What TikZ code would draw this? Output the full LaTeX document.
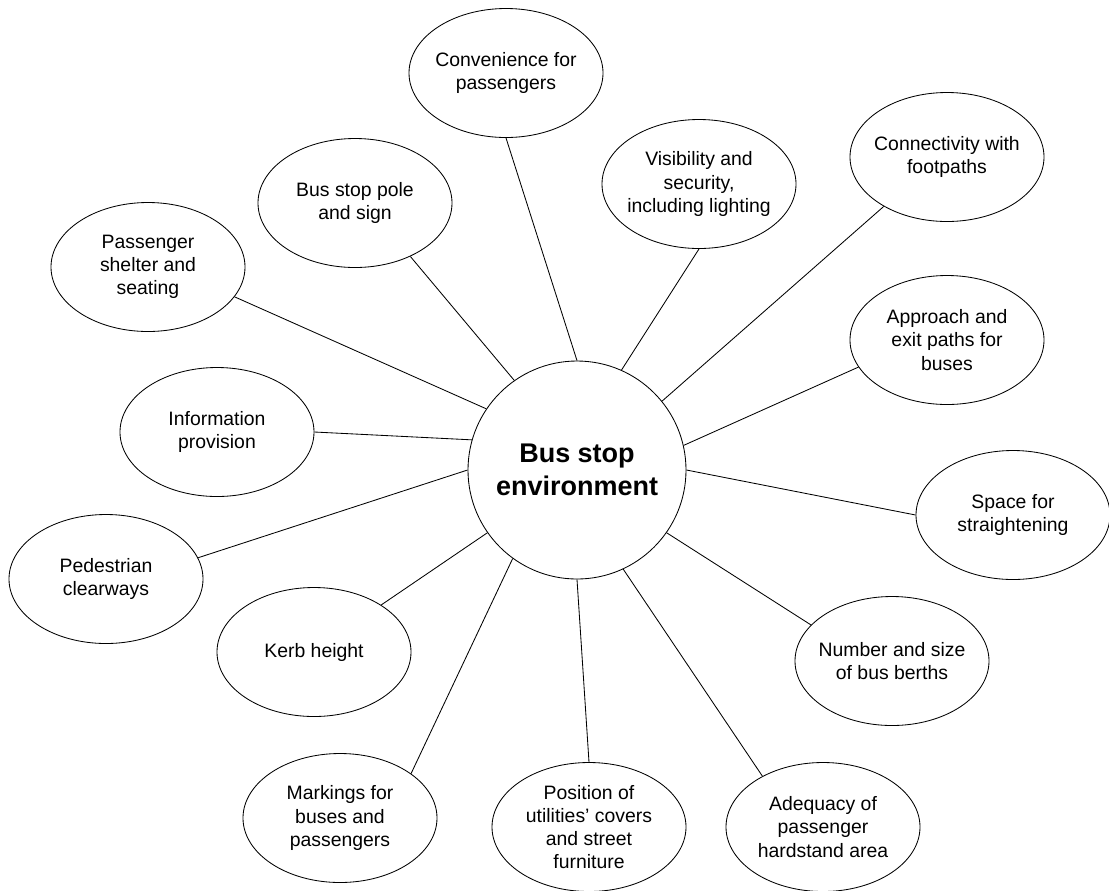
\documentclass[tikz,border=0pt]{standalone}
\usepackage{fontspec}
\setmainfont{Liberation Sans}
\usepackage{tikz}
\usetikzlibrary{shapes.geometric}

\tikzset{
  topic/.style={draw, ellipse, line width=0.6pt, minimum width=48.5mm, minimum height=32.25mm,
    inner xsep=-4mm, inner ysep=0pt, align=center, font=\fontsize{13.8}{16.4}\selectfont},
  hubnode/.style={draw, circle, line width=0.6pt, minimum size=54.5mm, inner sep=0pt,
    align=center, font=\fontsize{19.2}{23.7}\selectfont\bfseries},
  link/.style={line width=0.6pt}
}

\begin{document}
\begin{tikzpicture}[x=0.25mm,y=-0.25mm]
    \useasboundingbox (0,0) rectangle (1109,890);

    % Centre
    \node [hubnode] (hub) at (577,470) {Bus stop\\environment};

    % Surrounding topics, clockwise from the top
    \node [topic] (conv)  at (506,73)  {Convenience for\\passengers};
    \node [topic] (vis)   at (699,184) {Visibility and\\security,\\including lighting};
    \node [topic] (conn)  at (947,157) {Connectivity with\\footpaths};
    \node [topic] (appr)  at (947,340) {Approach and\\exit paths for\\buses};
    \node [topic] (space) at (1013,515) {Space for\\straightening};
    \node [topic] (berth) at (892,661) {Number and size\\of bus berths};
    \node [topic] (hard)  at (823,827) {Adequacy of\\passenger\\hardstand area};
    \node [topic] (util)  at (589,827) {Position of\\utilities’ covers\\and street\\furniture};
    \node [topic] (mark)  at (340,818) {Markings for\\buses and\\passengers};
    \node [topic] (kerb)  at (314,652) {Kerb height};
    \node [topic] (ped)   at (106,579) {Pedestrian\\clearways};
    \node [topic] (info)  at (217,432) {Information\\provision};
    \node [topic] (shelt) at (148,267) {Passenger\\shelter and\\seating};
    \node [topic] (pole)  at (355,203) {Bus stop pole\\and sign};

    % Spokes
    \draw [link] (hub.90)   -- (conv.south);
    \draw [link] (hub.66)   -- (vis.south);
    \draw [link] (hub.39)   -- (conn.218);
    \draw [link] (hub.13)   -- (appr.197);
    \draw [link] (hub.0)    -- (space.west);
    \draw [link] (hub.-35)  -- (berth.156);
    \draw [link] (hub.-65)  -- (hard.140);
    \draw [link] (hub.-90)  -- (util.north);
    \draw [link] (hub.-126) -- (mark.32);
    \draw [link] (hub.-145) -- (kerb.35);
    \draw [link] (hub.180)  -- (ped.13);
    \draw [link] (hub.164)  -- (info.east);
    \draw [link] (hub.146)  -- (shelt.-19);
    \draw [link] (hub.125)  -- (pole.-44);
\end{tikzpicture}
\end{document}
